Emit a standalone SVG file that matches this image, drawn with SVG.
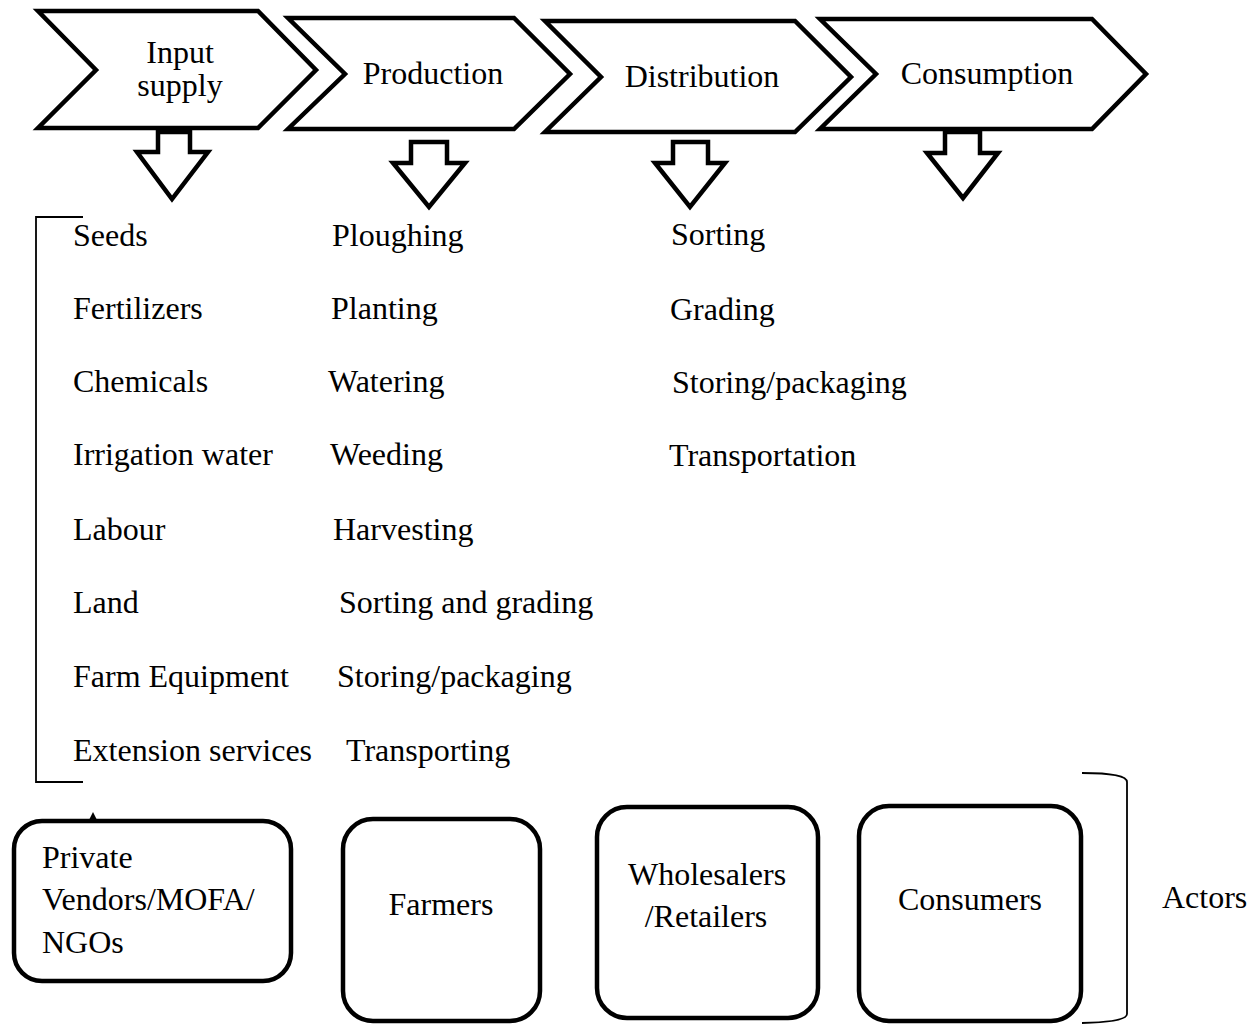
<svg xmlns="http://www.w3.org/2000/svg" width="1259" height="1025" viewBox="0 0 1259 1025">
<style>
text{font-family:"Liberation Serif","Times New Roman",serif;font-size:32px;fill:#000}
.c{text-anchor:middle}
.chev{fill:#fff;stroke:#000;stroke-width:4.5;stroke-linejoin:miter}
.darr{fill:#fff;stroke:#000;stroke-width:4.5;stroke-linejoin:miter}
.box{fill:#fff;stroke:#000;stroke-width:4.5}
.thin{fill:none;stroke:#000;stroke-width:1.8}
</style>
<rect width="1259" height="1025" fill="#fff"/>
<g id="stage-input">
<polygon class="chev" points="38,11 258,11 316,70 258,128 38,128 96,70"/>
<text class="c" x="180" y="63">Input</text>
<text class="c" x="180" y="96">supply</text>
</g>
<g id="stage-production">
<polygon class="chev" points="288,18 514,18 570,74 514,129 288,129 345,74"/>
<text class="c" x="433" y="84">Production</text>
</g>
<g id="stage-distribution">
<polygon class="chev" points="545,21 795,21 851,77 795,132 545,132 601,77"/>
<text class="c" x="702" y="87">Distribution</text>
</g>
<g id="stage-consumption">
<polygon class="chev" points="820,19 1092,19 1146,74 1092,129 820,129 876,74"/>
<text class="c" x="987" y="84">Consumption</text>
</g>
<g id="connectors">
<polygon class="darr" points="158,132 190,132 190,152 208,152 172,199 137,152 158,152"/>
<polygon class="darr" points="411,142 447,142 447,163 465,163 429,207 393,163 411,163"/>
<polygon class="darr" points="673,142 708,142 708,163 725,163 690,207 655,163 673,163"/>
<polygon class="darr" points="945,132 980,132 980,153 998,153 963,198 927,153 945,153"/>
<path class="thin" d="M83,217 H36 V782 H83"/>
<path class="thin" d="M1082,773 Q1127,773 1127,782 V1014 Q1127,1022 1082,1023"/>
<polygon points="89,820 93,812 97,820" fill="#000"/>
</g>
<g id="input-list">
<text x="73" y="246">Seeds</text>
<text x="73" y="319">Fertilizers</text>
<text x="73" y="392">Chemicals</text>
<text x="73" y="465">Irrigation water</text>
<text x="73" y="540">Labour</text>
<text x="73" y="613">Land</text>
<text x="73" y="687">Farm Equipment</text>
<text x="73" y="761">Extension services</text>
</g>
<g id="production-list">
<text x="332" y="246">Ploughing</text>
<text x="331" y="319">Planting</text>
<text x="328" y="392">Watering</text>
<text x="330" y="465">Weeding</text>
<text x="333" y="540">Harvesting</text>
<text x="339" y="613">Sorting and grading</text>
<text x="337" y="687">Storing/packaging</text>
<text x="346" y="761">Transporting</text>
</g>
<g id="distribution-list">
<text x="671" y="245">Sorting</text>
<text x="670" y="320">Grading</text>
<text x="672" y="393">Storing/packaging</text>
<text x="669" y="466">Transportation</text>
</g>
<g id="actor-vendors">
<rect class="box" x="14" y="821" width="277" height="160" rx="28"/>
<text x="42" y="868">Private</text>
<text x="42" y="910">Vendors/MOFA/</text>
<text x="42" y="953">NGOs</text>
</g>
<g id="actor-farmers">
<rect class="box" x="343" y="819" width="197" height="202" rx="30"/>
<text class="c" x="441" y="915">Farmers</text>
</g>
<g id="actor-wholesalers">
<rect class="box" x="597" y="807" width="221" height="211" rx="30"/>
<text class="c" x="707" y="885">Wholesalers</text>
<text class="c" x="706" y="927">/Retailers</text>
</g>
<g id="actor-consumers">
<rect class="box" x="859" y="806" width="222" height="215" rx="30"/>
<text class="c" x="970" y="910">Consumers</text>
</g>
<g id="actors-label">
<text x="1162" y="908">Actors</text>
</g>
</svg>
